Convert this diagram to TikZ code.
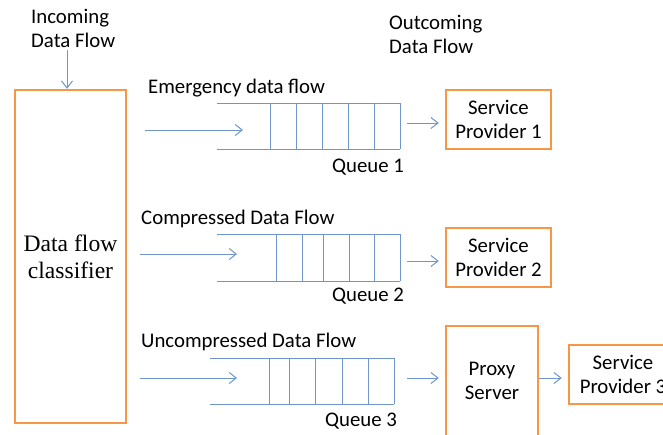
\documentclass[tikz,border=0pt]{standalone}
\usepackage{fontspec}
\setmainfont{Carlito}
\newfontfamily\clsfont{Liberation Serif}
\usetikzlibrary{arrows.meta}
\definecolor{boxorange}{RGB}{247,150,70}
\definecolor{lineblue}{RGB}{110,150,205}
\tikzset{
  obox/.style={draw=boxorange, line width=2.5pt, inner sep=0pt, align=center,
    font=\fontsize{20.8}{24}\selectfont},
  qline/.style={draw=lineblue, line width=1pt},
  arr/.style={draw=lineblue, line width=1pt, -{Straight Barb[length=7pt,width=11pt]}},
  lbl/.style={inner sep=0pt, anchor=base west, font=\fontsize{20.8}{24}\selectfont, align=left}
}
\begin{document}
\begin{tikzpicture}[x=1pt,y=-1pt]
\clip (0,0) rectangle (663,434);
\fill[white] (0,0) rectangle (663,434);
% boxes
\node[obox, minimum width=111, minimum height=333,
  font=\clsfont\fontsize{23.6}{27}\selectfont] (cls) at (70.5,256.5) {Data flow\\classifier};
\node[obox, minimum width=105, minimum height=59] (sp1) at (498.5,119.5) {Service\\Provider 1};
\node[obox, minimum width=105, minimum height=59] (sp2) at (498.5,257.5) {Service\\Provider 2};
\node[obox, minimum width=92, minimum height=110] (proxy) at (492,381) {Proxy\\Server};
\node[obox, minimum width=108, minimum height=59] (sp3) at (623,374.5) {Service\\Provider 3};
% labels
\node[lbl] (tin1) at (31,23) {Incoming};
\node[lbl] (tin2) at (31,47) {Data Flow};
\node[lbl] (tout1) at (389,29) {Outcoming};
\node[lbl] (tout2) at (389,53) {Data Flow};
\node[lbl] (t1) at (148,93) {Emergency data flow};
\node[lbl] (t2) at (141,224) {Compressed Data Flow};
\node[lbl] (t3) at (141,347) {Uncompressed Data Flow};
\node[lbl] (q1l) at (332,172) {Queue 1};
\node[lbl] (q2l) at (332,301) {Queue 2};
\node[lbl] (q3l) at (325,426) {Queue 3};
% queues
\draw[qline] (217,103) -- (400,103) (217,149) -- (400,149);
\foreach \x in {270,296,322,348,374,400} \draw[qline] (\x,103) -- (\x,149);
\draw[qline] (217,234) -- (400,234) (217,281) -- (400,281);
\foreach \x in {276,302,323,349,374,400} \draw[qline] (\x,234) -- (\x,281);
\draw[qline] (210,358) -- (394,358) (210,404) -- (394,404);
\foreach \x in {269,289,315,342,368,394} \draw[qline] (\x,358) -- (\x,404);
% arrows
\coordinate (in) at (67,50);
\draw[arr] (in) -- (in |- cls.north);
\coordinate (f1s) at (145,130); \coordinate (f1e) at (243,130);
\coordinate (f2s) at (140,254); \coordinate (f2e) at (237,254);
\coordinate (f3s) at (140,378); \coordinate (f3e) at (237,378);
\draw[arr] (f1s) -- (f1e);
\draw[arr] (f2s) -- (f2e);
\draw[arr] (f3s) -- (f3e);
\coordinate (q1o) at (407,123);
\coordinate (q2o) at (407,261);
\coordinate (q3o) at (407,378);
\draw[arr, shorten >=6pt] (q1o) -- (q1o -| sp1.west);
\draw[arr, shorten >=6pt] (q2o) -- (q2o -| sp2.west);
\draw[arr, shorten >=6pt] (q3o) -- (q3o -| proxy.west);
\draw[arr, shorten >=6pt] (proxy.east |- q3o) -- (q3o -| sp3.west);
\end{tikzpicture}
\end{document}
